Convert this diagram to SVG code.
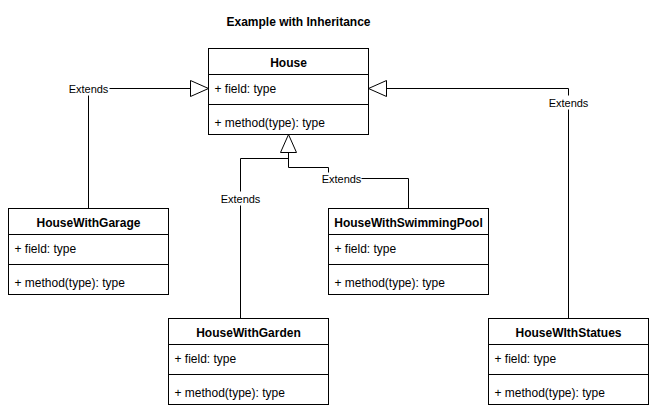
<svg xmlns="http://www.w3.org/2000/svg" width="657" height="416" viewBox="0 0 657 416">
<defs>
<style>
.box{fill:#fff;stroke:#000;stroke-width:1}
.t{font-family:"Liberation Sans",Arial,sans-serif;font-size:12px;fill:#000}
.h{font-weight:bold;text-anchor:middle}
.lbl{font-family:"Liberation Sans",Arial,sans-serif;font-size:11px;fill:#000;text-anchor:middle}
.c{fill:none;stroke:#000;stroke-width:1}
.tri{fill:#fff;stroke:#000;stroke-width:1}
</style>
</defs>
<rect width="657" height="416" fill="#fff"/>
<g transform="translate(0.5,0.5)">
<text class="t h" x="298" y="25">Example with Inheritance</text>

<g id="connectors">
<path class="c" d="M88,208 V88 H190"/>
<polygon class="tri" points="208,88 190,80 190,96"/>
<path class="c" d="M568,318 V88 H386"/>
<polygon class="tri" points="368,88 386,80 386,96"/>
<path class="c" d="M240,318 V158 H288 V152"/>
<path class="c" d="M408,208 V178 H328 V167 H288 V152"/>
<polygon class="tri" points="288,134 280,152 296,152"/>
<rect x="67" y="81" width="42" height="14" fill="#fff"/>
<text class="lbl" x="88" y="92">Extends</text>
<rect x="547" y="95" width="42" height="14" fill="#fff"/>
<text class="lbl" x="568" y="106">Extends</text>
<rect x="219" y="191" width="42" height="14" fill="#fff"/>
<text class="lbl" x="240" y="202">Extends</text>
<rect x="321" y="172" width="40" height="13" fill="#fff"/>
<text class="lbl" x="341" y="182">Extends</text>
</g>

<g id="House">
<rect class="box" x="208" y="48" width="160" height="86"/>
<line class="c" x1="208" y1="74" x2="368" y2="74"/>
<line class="c" x1="208" y1="104" x2="368" y2="104"/>
<text class="t h" x="288" y="66">House</text>
<text class="t" x="214" y="92">+ field: type</text>
<text class="t" x="214" y="126">+ method(type): type</text>
</g>

<g id="HouseWithGarage">
<rect class="box" x="8" y="208" width="160" height="86"/>
<line class="c" x1="8" y1="234" x2="168" y2="234"/>
<line class="c" x1="8" y1="264" x2="168" y2="264"/>
<text class="t h" x="88" y="226">HouseWithGarage</text>
<text class="t" x="14" y="252">+ field: type</text>
<text class="t" x="14" y="286">+ method(type): type</text>
</g>

<g id="HouseWithSwimmingPool">
<rect class="box" x="328" y="208" width="160" height="86"/>
<line class="c" x1="328" y1="234" x2="488" y2="234"/>
<line class="c" x1="328" y1="264" x2="488" y2="264"/>
<text class="t h" x="408" y="226">HouseWithSwimmingPool</text>
<text class="t" x="334" y="252">+ field: type</text>
<text class="t" x="334" y="286">+ method(type): type</text>
</g>

<g id="HouseWithGarden">
<rect class="box" x="168" y="318" width="160" height="86"/>
<line class="c" x1="168" y1="344" x2="328" y2="344"/>
<line class="c" x1="168" y1="374" x2="328" y2="374"/>
<text class="t h" x="248" y="336">HouseWithGarden</text>
<text class="t" x="174" y="362">+ field: type</text>
<text class="t" x="174" y="396">+ method(type): type</text>
</g>

<g id="HouseWIthStatues">
<rect class="box" x="488" y="318" width="160" height="86"/>
<line class="c" x1="488" y1="344" x2="648" y2="344"/>
<line class="c" x1="488" y1="374" x2="648" y2="374"/>
<text class="t h" x="568" y="336">HouseWIthStatues</text>
<text class="t" x="494" y="362">+ field: type</text>
<text class="t" x="494" y="396">+ method(type): type</text>
</g>
</g>
</svg>
